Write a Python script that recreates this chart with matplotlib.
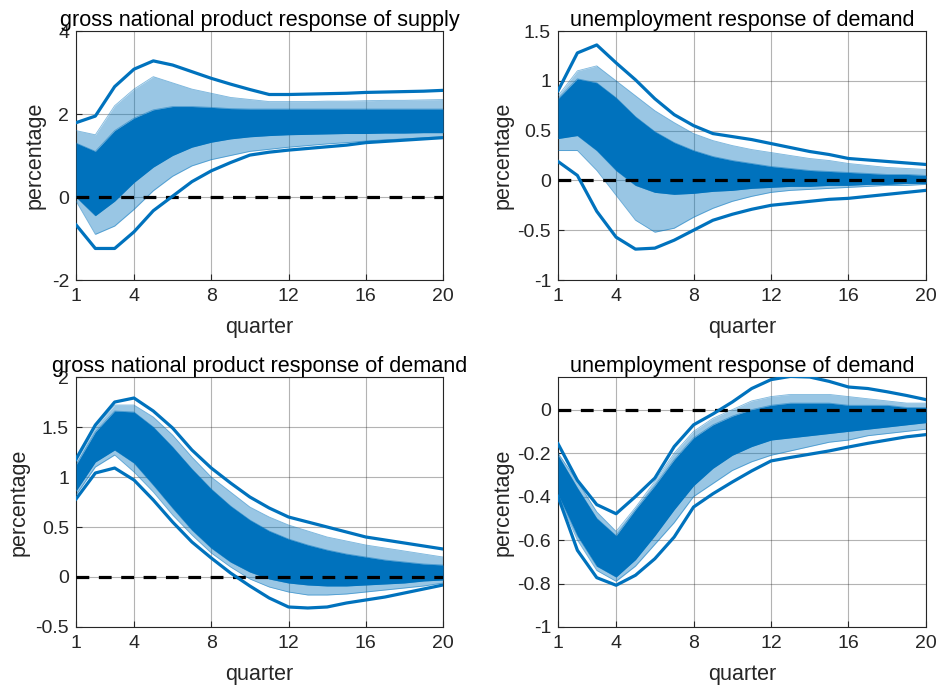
import numpy as np
import matplotlib
matplotlib.use("Agg")
import matplotlib.pyplot as plt
from matplotlib.ticker import FuncFormatter

plt.rcParams["font.family"] = ["Liberation Sans", "DejaVu Sans"]

BLUE = "#0072BD"

# quarters
quarters = list(range(1, 21))
x_ticks = [1, 4, 8, 12, 16, 20]

titles = ["gross national product response of supply",
          "unemployment response of demand",
          "gross national product response of demand",
          "unemployment response of demand"]

# panel 1: gnp response of supply
gnp_s_upper = [1.79, 1.95, 2.66, 3.08, 3.28, 3.18, 3.02, 2.86, 2.72, 2.59,
               2.47, 2.47, 2.48, 2.49, 2.50, 2.52, 2.53, 2.54, 2.55, 2.57]
gnp_s_lower = [-0.67, -1.24, -1.24, -0.84, -0.33, 0.02, 0.37, 0.63, 0.83, 1.01,
               1.08, 1.13, 1.17, 1.21, 1.25, 1.31, 1.34, 1.37, 1.40, 1.43]
gnp_s_fringe_hi = [1.60, 1.50, 2.20, 2.60, 2.90, 2.75, 2.60, 2.50, 2.40, 2.35,
                   2.30, 2.30, 2.30, 2.31, 2.31, 2.32, 2.33, 2.33, 2.34, 2.35]
gnp_s_core_hi = [1.30, 1.10, 1.60, 1.90, 2.10, 2.18, 2.18, 2.16, 2.13, 2.12,
                 2.12, 2.12, 2.12, 2.12, 2.12, 2.12, 2.12, 2.12, 2.12, 2.12]
gnp_s_mid = [0.60, 0.30, 0.80, 1.20, 1.45, 1.60, 1.70, 1.75, 1.78, 1.79,
             1.80, 1.80, 1.80, 1.80, 1.80, 1.80, 1.80, 1.80, 1.80, 1.80]
gnp_s_core_lo = [0.00, -0.45, -0.10, 0.35, 0.72, 1.00, 1.20, 1.32, 1.40, 1.45,
                 1.48, 1.50, 1.51, 1.52, 1.53, 1.53, 1.54, 1.54, 1.55, 1.55]
gnp_s_fringe_lo = [-0.10, -0.90, -0.70, -0.30, 0.15, 0.50, 0.75, 0.90, 1.00, 1.10,
                   1.15, 1.20, 1.24, 1.28, 1.31, 1.35, 1.38, 1.40, 1.43, 1.45]

# panel 2: unemployment response of demand (top)
un_d1_upper = [0.90, 1.28, 1.36, 1.18, 1.01, 0.82, 0.66, 0.55, 0.47, 0.44,
               0.41, 0.37, 0.33, 0.29, 0.26, 0.22, 0.205, 0.19, 0.175, 0.16]
un_d1_lower = [0.19, 0.05, -0.31, -0.57, -0.69, -0.68, -0.60, -0.50, -0.40, -0.34,
               -0.29, -0.25, -0.23, -0.21, -0.19, -0.18, -0.16, -0.14, -0.12, -0.10]
un_d1_fringe_hi = [0.85, 1.10, 1.15, 1.00, 0.85, 0.70, 0.58, 0.47, 0.40, 0.35,
                   0.31, 0.28, 0.25, 0.22, 0.20, 0.17, 0.15, 0.13, 0.12, 0.11]
un_d1_core_hi = [0.82, 1.02, 0.98, 0.83, 0.64, 0.49, 0.38, 0.30, 0.24, 0.20,
                 0.17, 0.14, 0.12, 0.10, 0.09, 0.08, 0.07, 0.06, 0.06, 0.05]
un_d1_mid = [0.60, 0.75, 0.70, 0.50, 0.35, 0.22, 0.15, 0.10, 0.07, 0.05,
             0.04, 0.04, 0.03, 0.03, 0.03, 0.03, 0.02, 0.02, 0.02, 0.02]
un_d1_core_lo = [0.42, 0.45, 0.30, 0.10, -0.05, -0.12, -0.14, -0.13, -0.11, -0.10,
                 -0.08, -0.07, -0.06, -0.06, -0.05, -0.05, -0.04, -0.04, -0.03, -0.03]
un_d1_fringe_lo = [0.30, 0.30, 0.10, -0.15, -0.40, -0.52, -0.48, -0.37, -0.28, -0.21,
                   -0.16, -0.12, -0.10, -0.09, -0.08, -0.07, -0.06, -0.05, -0.05, -0.04]

# panel 3: gnp response of demand
gnp_d_upper = [1.18, 1.52, 1.75, 1.79, 1.66, 1.49, 1.27, 1.09, 0.94, 0.80,
               0.69, 0.60, 0.55, 0.50, 0.45, 0.40, 0.37, 0.34, 0.31, 0.28]
gnp_d_lower = [0.78, 1.04, 1.09, 0.97, 0.77, 0.55, 0.35, 0.19, 0.04, -0.09,
               -0.21, -0.30, -0.31, -0.30, -0.26, -0.23, -0.20, -0.16, -0.12, -0.08]
gnp_d_fringe_hi = [1.15, 1.50, 1.72, 1.72, 1.60, 1.42, 1.20, 1.00, 0.85, 0.70,
                   0.60, 0.52, 0.46, 0.40, 0.36, 0.32, 0.29, 0.26, 0.23, 0.20]
gnp_d_core_hi = [1.12, 1.45, 1.66, 1.65, 1.50, 1.30, 1.08, 0.88, 0.71, 0.57,
                 0.46, 0.38, 0.32, 0.27, 0.23, 0.20, 0.17, 0.15, 0.13, 0.12]
gnp_d_mid = [1.00, 1.32, 1.48, 1.42, 1.22, 0.98, 0.75, 0.55, 0.40, 0.28,
             0.20, 0.14, 0.10, 0.08, 0.06, 0.05, 0.04, 0.03, 0.03, 0.02]
gnp_d_core_lo = [0.86, 1.15, 1.27, 1.14, 0.92, 0.69, 0.47, 0.29, 0.15, 0.05,
                 -0.02, -0.06, -0.08, -0.09, -0.09, -0.08, -0.07, -0.06, -0.04, -0.03]
gnp_d_fringe_lo = [0.82, 1.10, 1.22, 1.05, 0.85, 0.62, 0.42, 0.24, 0.10, -0.02,
                   -0.10, -0.15, -0.18, -0.18, -0.17, -0.15, -0.13, -0.11, -0.09, -0.06]

# panel 4: unemployment response of demand (bottom)
un_d2_upper = [-0.157, -0.325, -0.437, -0.479, -0.40, -0.315, -0.17, -0.07, -0.02, 0.035,
               0.097, 0.138, 0.153, 0.15, 0.13, 0.104, 0.097, 0.082, 0.065, 0.046]
un_d2_lower = [-0.40, -0.647, -0.773, -0.808, -0.762, -0.686, -0.586, -0.448, -0.387, -0.333,
               -0.282, -0.236, -0.22, -0.205, -0.19, -0.172, -0.155, -0.14, -0.125, -0.115]
un_d2_fringe_hi = [-0.20, -0.33, -0.47, -0.56, -0.45, -0.33, -0.20, -0.10, -0.04, 0.00,
                   0.04, 0.06, 0.07, 0.07, 0.07, 0.06, 0.05, 0.04, 0.03, 0.03]
un_d2_core_hi = [-0.21, -0.36, -0.50, -0.58, -0.46, -0.35, -0.23, -0.13, -0.07, -0.03,
                 0.00, 0.02, 0.03, 0.03, 0.03, 0.02, 0.02, 0.02, 0.01, 0.01]
un_d2_mid = [-0.30, -0.48, -0.62, -0.67, -0.58, -0.46, -0.34, -0.23, -0.16, -0.11,
             -0.08, -0.06, -0.05, -0.04, -0.04, -0.03, -0.03, -0.02, -0.02, -0.02]
un_d2_core_lo = [-0.39, -0.58, -0.72, -0.77, -0.69, -0.58, -0.46, -0.35, -0.27, -0.21,
                 -0.17, -0.14, -0.13, -0.12, -0.11, -0.10, -0.09, -0.08, -0.07, -0.06]
un_d2_fringe_lo = [-0.40, -0.60, -0.74, -0.79, -0.72, -0.62, -0.52, -0.40, -0.34, -0.28,
                   -0.24, -0.21, -0.19, -0.17, -0.15, -0.14, -0.12, -0.11, -0.10, -0.09]

y_limits = [(-2, 4), (-1, 1.5), (-0.5, 2), (-1, 0.15)]
y_ticks = [[-2, 0, 2, 4],
           [-1, -0.5, 0, 0.5, 1, 1.5],
           [-0.5, 0, 0.5, 1, 1.5, 2],
           [-1, -0.8, -0.6, -0.4, -0.2, 0]]
ylabel_x = [-0.112, -0.149, -0.155, -0.149]

panels = [
    (gnp_s_upper, gnp_s_lower, gnp_s_fringe_hi, gnp_s_core_hi, gnp_s_mid, gnp_s_core_lo, gnp_s_fringe_lo),
    (un_d1_upper, un_d1_lower, un_d1_fringe_hi, un_d1_core_hi, un_d1_mid, un_d1_core_lo, un_d1_fringe_lo),
    (gnp_d_upper, gnp_d_lower, gnp_d_fringe_hi, gnp_d_core_hi, gnp_d_mid, gnp_d_core_lo, gnp_d_fringe_lo),
    (un_d2_upper, un_d2_lower, un_d2_fringe_hi, un_d2_core_hi, un_d2_mid, un_d2_core_lo, un_d2_fringe_lo),
]

# axes rectangles (figure fraction)
rects = [[0.0808, 0.5936, 0.390, 0.3614],
         [0.5930, 0.5936, 0.391, 0.3614],
         [0.0808, 0.0900, 0.390, 0.3628],
         [0.5930, 0.0900, 0.391, 0.3628]]

fig = plt.figure(figsize=(9.41, 6.89), dpi=100)
fmt = FuncFormatter(lambda v, p: "%g" % v)

for i, (up, lo, f_hi, c_hi, mid, c_lo, f_lo) in enumerate(panels):
    ax = fig.add_axes(rects[i])
    q = np.array(quarters)

    # bundle of draws: light outer fringe, solid dense core
    ax.fill_between(q, f_lo, f_hi, color=BLUE, alpha=0.4, lw=0, zorder=2)
    ax.fill_between(q, c_lo, c_hi, color=BLUE, alpha=1.0, lw=0, zorder=3)
    for s in (f_hi, c_hi, c_lo, f_lo):
        ax.plot(q, s, color=BLUE, lw=0.6, alpha=0.5, zorder=3)

    # zero line and bounds
    ax.plot([quarters[0], quarters[-1]], [0, 0], color="black", lw=2.3,
            dashes=(4, 3), zorder=4)
    ax.plot(q, up, color=BLUE, lw=2.3, zorder=5)
    ax.plot(q, lo, color=BLUE, lw=2.3, zorder=5)

    ax.set_xlim(1, 20)
    ax.set_ylim(*y_limits[i])
    ax.set_xticks(x_ticks)
    ax.set_yticks(y_ticks[i])
    ax.yaxis.set_major_formatter(fmt)
    ax.grid(True, color="#262626", alpha=0.35, lw=0.8, zorder=1)
    ax.set_axisbelow(True)
    ax.tick_params(direction="in", length=4, width=0.8, colors="#262626",
                   labelsize=14, top=False, right=False)
    ax.tick_params(axis="x", pad=6)
    ax.tick_params(axis="y", pad=5)
    for sp in ax.spines.values():
        sp.set_color("#262626")
        sp.set_linewidth(0.8)

    ax.set_title(titles[i], fontsize=15.6, pad=3, color="black")
    ax.set_xlabel("quarter", fontsize=15.5, color="#262626")
    ax.set_ylabel("percentage", fontsize=15.5, color="#262626")
    ax.xaxis.set_label_coords(0.5, -0.19)
    ax.yaxis.set_label_coords(ylabel_x[i], 0.5)
    ax.xaxis.label.set_va("center")
    ax.yaxis.label.set_va("center")

fig.savefig("out.png", dpi=100, facecolor="white")
